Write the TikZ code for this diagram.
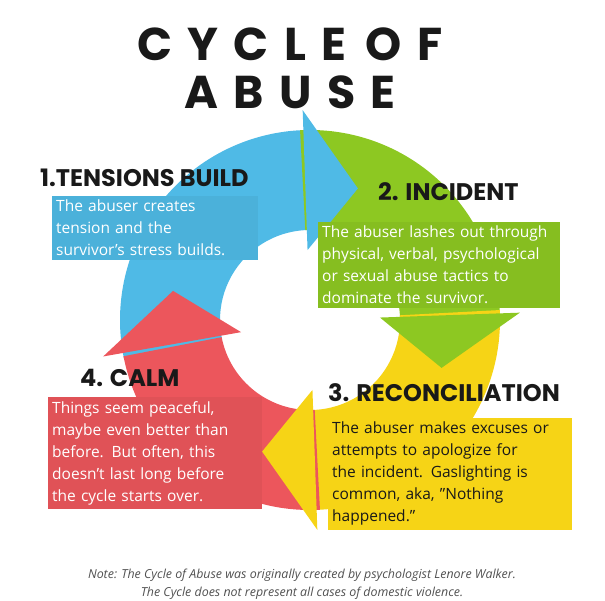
\documentclass[tikz,border=0pt]{standalone}
\usepackage{fontspec}
\setmainfont{Open Sans}
\newfontfamily\headfont{Poppins}
\definecolor{SkyBlue}{RGB}{79,186,230}
\definecolor{Lime}{RGB}{141,200,34}
\definecolor{Sun}{RGB}{246,212,22}
\definecolor{Coral}{RGB}{236,86,92}
\definecolor{Ink}{RGB}{25,25,25}
\definecolor{NoteGray}{RGB}{80,80,80}
% body and tip of one arrow of the ring: start angle, end angle, colour
\newcommand{\ringbody}[3]{%
  \fill[#3] (#1:90) arc (#1:#2:90) -- (#2:190) arc (#2:#1:190) -- cycle;}
\newcommand{\ringtip}[2]{%
  \fill[#2] (#1:70) -- ({#1-22}:140) -- (#1:210) -- cycle;}
\begin{document}
\begin{tikzpicture}[x=1pt, y=1pt,
  box/.style={anchor=north west, inner sep=4pt, align=left, text=white, font=\fontsize{15.5}{22}\selectfont},
  heading/.style={anchor=west, inner sep=0pt, text=Ink, font=\headfont\bfseries\fontsize{24}{26}\selectfont},
  titletext/.style={text=Ink, inner sep=0pt, font=\headfont\bfseries\fontsize{46}{48}\selectfont}]
  \useasboundingbox (0,0) rectangle (605,600);

  % Ring
  \begin{scope}[shift={(310,280)}]
    \ringbody{192}{92}{SkyBlue}
    \ringbody{93}{2}{Lime}
    \ringbody{3}{-88}{Sun}
    \ringbody{-87}{-169}{Coral}
    \ringtip{92}{SkyBlue}
    \ringtip{2}{Lime}
    \ringtip{-88}{Sun}
    \ringtip{-170}{Coral}
  \end{scope}

  % Title
  \node[titletext] (title1) at (290,556) {C\,\,Y\,\,C\,\,L\,\,E\ \ O\,\,F};
  \node[titletext] (title2) at (290,508) {A\,\,B\,\,U\,\,S\,\,E};

  % Headings
  \node[heading] (h1) at (40,422) {1.TENSIONS BUILD};
  \node[heading] (h2) at (378,408) {2. INCIDENT};
  \node[heading] (h3) at (328,207) {3. RECONCILIATION};
  \node[heading] (h4) at (80,222) {4. CALM};

  % Text boxes
  \node[box, fill=SkyBlue!95!black, text width=198pt] (b1) at (52,404) {The abuser creates\\tension and the\\survivor's stress builds.};
  \node[box, fill=Lime!95!black, text width=234pt] (b2) at (318,378) {The abuser lashes out through\\physical, verbal, psychological\\or sexual abuse tactics to\\dominate the survivor.};
  \node[box, fill=Sun, text=Ink, text width=236pt] (b3) at (328,182) {The abuser makes excuses or\\attempts to apologize for\\the incident. Gaslighting is\\common, aka, "Nothing\\happened."};
  \node[box, fill=Coral!95!black, text width=206pt] (b4) at (48,203) {Things seem peaceful,\\maybe even better than\\before. But often, this\\doesn't last long before\\the cycle starts over.};

  % Note
  \node[text=NoteGray, font=\itshape\fontsize{12.4}{18}\selectfont, align=center] (note) at (302,16) {Note: The Cycle of Abuse was originally created by psychologist Lenore Walker.\\The Cycle does not represent all cases of domestic violence.};
\end{tikzpicture}
\end{document}
